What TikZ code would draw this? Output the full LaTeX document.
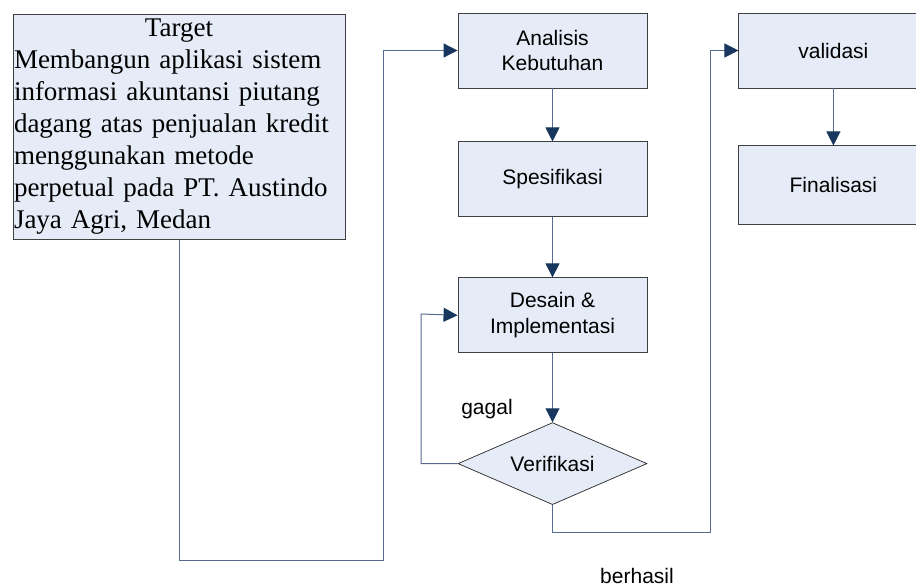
\documentclass[tikz,border=0pt]{standalone}
\usepackage{fontspec}
\setmainfont{Liberation Serif}
\setsansfont{Liberation Sans}
\usetikzlibrary{arrows.meta,positioning,shapes.geometric}

\definecolor{isikotak}{RGB}{230,236,247}
\definecolor{garisalur}{RGB}{88,108,143}
\definecolor{ujungpanah}{RGB}{23,55,94}

\tikzset{
  kotak/.style={rectangle, draw=black!75, fill=isikotak, line width=0.9pt,
    minimum width=189pt, minimum height=75pt, inner sep=0pt, align=center,
    font=\sffamily\fontsize{21}{25.7}\selectfont},
  keputusan/.style={diamond, aspect=2.3, draw=black!85, fill=isikotak, line width=0.7pt,
    minimum width=189pt, minimum height=82pt, inner sep=0pt,
    font=\sffamily\fontsize{21}{25.7}\selectfont},
  alur/.style={draw=garisalur, line width=1pt,
    -{Triangle[color=ujungpanah,length=14pt,width=14pt]}},
  keterangan/.style={inner sep=0pt, anchor=base,
    font=\sffamily\fontsize{21}{25.7}\selectfont}
}

\begin{document}
\begin{tikzpicture}[x=1pt, y=-1pt]
\useasboundingbox (0,0) rectangle (916,587);

\node[kotak, font=\rmfamily\fontsize{27}{32}\selectfont, minimum width=332pt,
  minimum height=225pt, text width=330pt, inner sep=1pt, align=left]
  (target) at (179,127) {\makebox[330pt]{Target}\\
  Membangun aplikasi sistem\\
  informasi akuntansi piutang\\
  dagang atas penjualan kredit\\
  menggunakan metode\\
  perpetual pada PT. Austindo\\
  Jaya Agri, Medan};

\node[kotak] (analisis) at (552.5,50.5) {Analisis\\Kebutuhan};
\node[kotak, below=53pt of analisis] (spesifikasi) {Spesifikasi};
\node[kotak, below=60pt of spesifikasi] (desain) {Desain \&\\Implementasi};
\node[keputusan, below=69pt of desain] (verifikasi) {Verifikasi};
\node[kotak, right=91pt of analisis] (validasi) {validasi};
\node[kotak, below=57pt of validasi, minimum height=79pt] (finalisasi) {Finalisasi};

\node[keterangan] (gagal) at (487,414) {gagal};
\node[keterangan] (berhasil) at (637,583) {berhasil};

\coordinate (belokmulai) at (383,560);
\coordinate (belokgagal) at (421,314);
\coordinate (belokhasil) at (710,532);

\draw[alur] (target.south) |- (belokmulai) |- (analisis.west);
\draw[alur] (analisis) -- (spesifikasi);
\draw[alur] (spesifikasi) -- (desain);
\draw[alur] (desain) -- (verifikasi);
\draw[alur] (verifikasi.west) -| (belokgagal) -- (desain.west);
\draw[alur] (verifikasi.south) |- (belokhasil) |- (validasi.west);
\draw[alur] (validasi) -- (finalisasi);
\end{tikzpicture}
\end{document}
